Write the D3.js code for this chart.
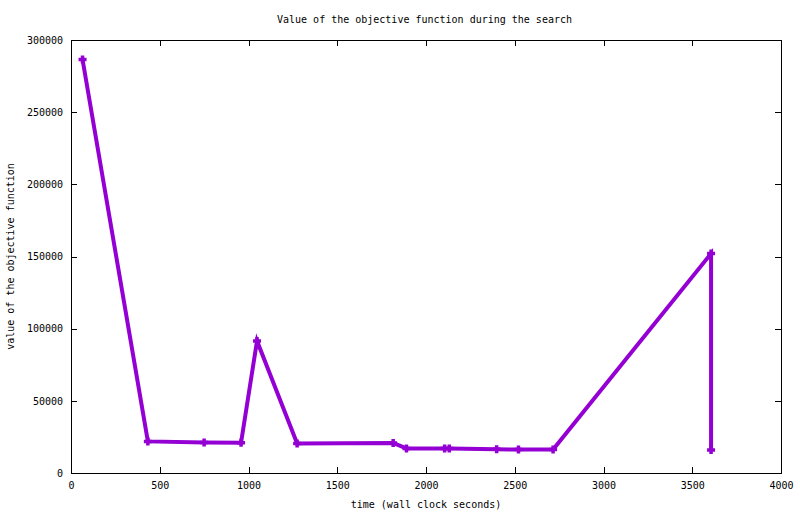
<!DOCTYPE html>
<html>
<head>
<meta charset="utf-8">
<script src="https://cdn.jsdelivr.net/npm/d3@7"></script>
<style>
  body { margin: 0; background: #fff; }
  text { font-family: "DejaVu Sans Mono", monospace; font-size: 10px; fill: #000; }
</style>
</head>
<body>
<div id="chart"></div>
<script>
// wall clock seconds
const times = [65, 433, 750, 958, 1048, 1274, 1815, 1890, 2105, 2131, 2398, 2521, 2716, 3606, 3606];
// objective function value
const values = [286500, 21900, 21200, 21000, 91500, 20500, 20800, 17000, 17000, 17000, 16400, 16300, 16300, 152000, 16000];
const xTicks = [0, 500, 1000, 1500, 2000, 2500, 3000, 3500, 4000];
const yTicks = [0, 50000, 100000, 150000, 200000, 250000, 300000];

const margin = { top: 40, left: 71, bottom: 41, right: 19 };
const fullWidth = 800, fullHeight = 514;
const width = fullWidth - margin.left - margin.right;
const height = fullHeight - margin.top - margin.bottom;

const root = d3.select('#chart')
    .append('svg')
        .attr('width', fullWidth)
        .attr('height', fullHeight);

const svg = root.append('g')
        .attr('transform', `translate(${margin.left}, ${margin.top})`);

const xScale = d3.scaleLinear().domain([0, 4000]).range([0, width]);
const yScale = d3.scaleLinear().domain([0, 300000]).range([height, 0]);

const tickLen = 6;
const fmt = d3.format('d');

// ticks drawn inward, mirrored on opposite sides
function styleAxis(g) {
    g.select('.domain').remove();
    g.selectAll('line').attr('stroke', '#000').attr('shape-rendering', 'crispEdges');
    g.selectAll('text').style('font-family', '"DejaVu Sans Mono", monospace').style('font-size', '10px');
}

svg.append('g')
        .attr('transform', `translate(0, ${height})`)
    .call(d3.axisBottom(xScale).tickValues(xTicks).tickSize(-tickLen).tickPadding(9).tickFormat(fmt))
    .call(styleAxis);

svg.append('g')
    .call(d3.axisTop(xScale).tickValues(xTicks).tickSize(-tickLen).tickFormat(''))
    .call(styleAxis);

svg.append('g')
    .call(d3.axisLeft(yScale).tickValues(yTicks).tickSize(-tickLen).tickPadding(8).tickFormat(fmt))
    .call(styleAxis);

svg.append('g')
        .attr('transform', `translate(${width}, 0)`)
    .call(d3.axisRight(yScale).tickValues(yTicks).tickSize(-tickLen).tickFormat(''))
    .call(styleAxis);

svg.append('rect')
    .attr('x', 0.5)
    .attr('y', 0.5)
    .attr('width', width)
    .attr('height', height)
    .attr('fill', 'none')
    .attr('stroke', '#000')
    .attr('shape-rendering', 'crispEdges');

const pts = times.map((t, i) => [t, values[i]]);
const color = '#9400d3';

const line = d3.line()
    .x(d => xScale(d[0]))
    .y(d => yScale(d[1]));

svg.append('path')
    .datum(pts)
    .attr('d', line)
    .attr('fill', 'none')
    .attr('stroke', color)
    .attr('stroke-width', 4)
    .attr('stroke-linejoin', 'miter');

const arm = 4;
svg.selectAll('.pt')
    .data(pts)
    .enter()
    .append('path')
        .attr('class', 'pt')
        .attr('d', d => {
            const x = xScale(d[0]), y = yScale(d[1]);
            return `M${x - arm},${y}H${x + arm}M${x},${y - arm}V${y + arm}`;
        })
        .attr('stroke', color)
        .attr('stroke-width', 3.5)
        .attr('fill', 'none');

root.append('text')
    .attr('x', 424.5)
    .attr('y', 23)
    .attr('text-anchor', 'middle')
    .text('Value of the objective function during the search');

root.append('text')
    .attr('x', margin.left + width / 2)
    .attr('y', 508)
    .attr('text-anchor', 'middle')
    .text('time (wall clock seconds)');

root.append('text')
    .attr('transform', `translate(14, ${margin.top + height / 2}) rotate(-90)`)
    .attr('text-anchor', 'middle')
    .text('value of the objective function');
</script>
</body>
</html>
